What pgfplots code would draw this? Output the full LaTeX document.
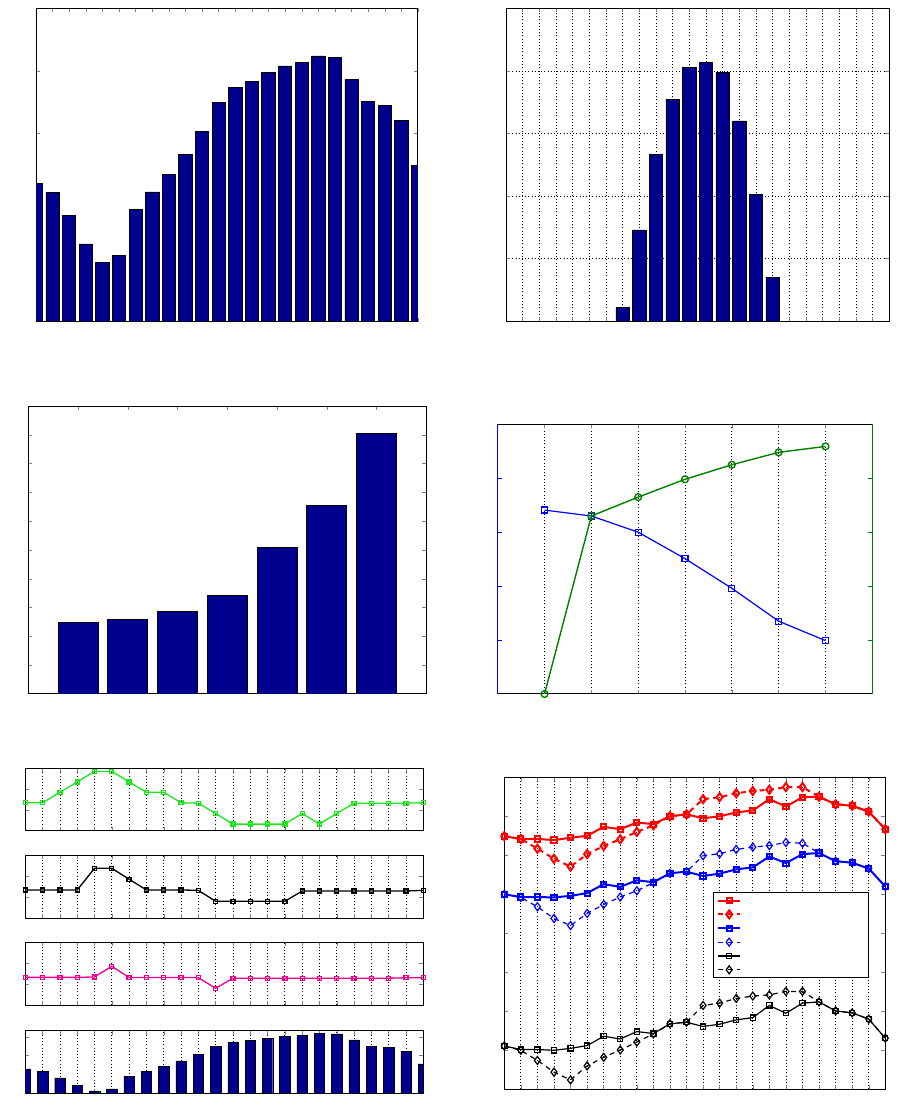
\documentclass[border=0pt]{standalone}
\usepackage{pgfplots}
\pgfplotsset{compat=1.18}
\usepackage{pgfplotstable}

\definecolor{matnavy}{RGB}{0,0,143}
\definecolor{matgreen}{RGB}{0,128,0}
\definecolor{brightgreen}{RGB}{30,230,30}

\pgfplotsset{
  panel/.style={scale only axis, anchor=south west, tick align=inside,
    major tick length=2pt, xticklabel={\mbox{}}, yticklabel={\mbox{}},
    axis line style={line width=0.5pt},
    grid style={black, line width=0.4pt, dash pattern=on 0.5pt off 1.1pt}},
  navybar/.style={ybar, fill=matnavy, draw=black, line width=0.4pt},
}

% hourly bars, top left (reused in the bottom strip)
\pgfplotstableread{
x y
0 2.20
1 2.06
2 1.69
3 1.24
4 0.94
5 1.05
6 1.79
7 2.07
8 2.35
9 2.67
10 3.04
11 3.50
12 3.74
13 3.84
14 3.98
15 4.08
16 4.13
17 4.24
18 4.22
19 3.87
20 3.52
21 3.45
22 3.21
23 2.49
}\hourly

% step profiles, bottom left strips
\pgfplotstableread{
x g k m
0 1.35 1.35 1.33
1 1.35 1.35 1.33
2 1.85 1.35 1.33
3 2.35 1.35 1.33
4 2.85 2.38 1.35
5 2.85 2.38 1.86
6 2.35 1.86 1.32
7 1.85 1.35 1.32
8 1.85 1.35 1.32
9 1.35 1.35 1.32
10 1.33 1.33 1.32
11 0.84 0.81 0.81
12 0.33 0.81 1.29
13 0.33 0.81 1.29
14 0.33 0.81 1.29
15 0.33 0.81 1.29
16 0.84 1.30 1.29
17 0.33 1.30 1.29
18 0.84 1.30 1.29
19 1.33 1.30 1.29
20 1.33 1.30 1.29
21 1.33 1.30 1.29
22 1.33 1.30 1.31
23 1.35 1.33 1.31
}\steps

% bottom right: three pairs of curves
\pgfplotstableread{
x rs rd bs bd ks kd
0 6.49 6.49 5.00 5.00 1.11 1.11
1 6.42 6.42 4.93 4.92 1.02 1.00
2 6.42 6.17 4.93 4.68 1.02 0.74
3 6.39 5.91 4.92 4.38 1.00 0.44
4 6.45 5.71 4.96 4.20 1.05 0.24
5 6.50 6.03 5.03 4.51 1.12 0.60
6 6.73 6.24 5.26 4.74 1.36 0.82
7 6.67 6.41 5.19 4.93 1.29 1.01
8 6.84 6.60 5.36 5.09 1.48 1.21
9 6.80 6.77 5.31 5.30 1.43 1.42
10 7.00 7.00 5.54 5.54 1.68 1.68
11 7.05 7.05 5.58 5.58 1.72 1.72
12 6.95 7.44 5.47 5.99 1.61 2.15
13 7.00 7.49 5.53 6.04 1.67 2.21
14 7.10 7.59 5.64 6.15 1.78 2.33
15 7.15 7.65 5.69 6.21 1.84 2.39
16 7.44 7.68 5.97 6.25 2.15 2.42
17 7.25 7.75 5.80 6.33 1.95 2.51
18 7.49 7.75 6.03 6.31 2.21 2.51
19 7.50 7.50 6.06 6.06 2.24 2.24
20 7.31 7.31 5.85 5.85 2.01 2.01
21 7.27 7.27 5.81 5.81 1.96 1.96
22 7.12 7.12 5.66 5.66 1.80 1.80
23 6.67 6.67 5.20 5.20 1.31 1.31
}\curves

\begin{document}
\begin{tikzpicture}
\path[use as bounding box] (0,0) rectangle (450.5pt,558pt);

% top left
\begin{axis}[panel, at={(18pt,397.15pt)}, width=191pt, height=156.7pt,
  xmin=0, xmax=23, ymin=0, ymax=5, xtick={0,...,23}, ytick={0,...,5}]
\addplot[navybar, bar width=0.8] table[x=x,y=y] {\hourly};
\end{axis}

% top right
\begin{axis}[panel, at={(253pt,397.35pt)}, width=191.65pt, height=156.5pt,
  xmin=0, xmax=23, ymin=0, ymax=5, xtick={0,...,23}, ytick={0,...,5},
  xmajorgrids, ymajorgrids]
\addplot[navybar, bar width=0.8] coordinates {
  (7,0.22)(8,1.46)(9,2.66)(10,3.55)(11,4.05)(12,4.14)(13,3.97)(14,3.20)(15,2.03)(16,0.70)};
\end{axis}

% middle left
\begin{axis}[panel, at={(14.15pt,211pt)}, width=199pt, height=144pt,
  xmin=0, xmax=8, ymin=0, ymax=10, xtick={1,...,7}, ytick={1,...,9}]
\addplot[navybar, bar width=0.8] coordinates {
  (1,2.49)(2,2.60)(3,2.87)(4,3.43)(5,5.10)(6,6.56)(7,9.06)};
\end{axis}

% middle right, two y axes
\begin{axis}[panel, at={(248.85pt,211pt)}, width=187.3pt, height=134.85pt,
  xmin=0, xmax=8, ymin=0, ymax=5, xtick={1,...,7}, ytick={1,...,4},
  xmajorgrids, axis y line*=left, tick align=inside,
  y axis line style={blue}, every y tick/.append style={blue},
  clip mode=individual]
\addplot[blue, line width=0.6pt, mark=square, mark size=1.5pt] coordinates {
  (1,3.41)(2,3.30)(3,3.00)(4,2.51)(5,1.96)(6,1.35)(7,0.99)};
\end{axis}
\begin{axis}[panel, at={(248.85pt,211pt)}, width=187.3pt, height=134.85pt,
  xmin=0, xmax=8, ymin=0, ymax=5, ytick={1,...,4},
  axis x line=none, axis y line*=right, tick align=inside,
  y axis line style={matgreen}, every y tick/.append style={matgreen},
  clip mode=individual]
\addplot[matgreen, line width=0.7pt, mark=o, mark size=1.7pt] coordinates {
  (1,0)(2,3.30)(3,3.65)(4,3.98)(5,4.25)(6,4.48)(7,4.59)};
\end{axis}

% bottom left strips
\begin{axis}[panel, at={(12.65pt,142.5pt)}, width=199pt, height=31.35pt,
  xmin=0, xmax=23, ymin=0, ymax=3, xtick={0,...,23}, ytick={1,2},
  xmajorgrids, clip mode=individual]
\addplot[brightgreen, line width=0.65pt, mark=square, mark size=1pt] table[x=x,y=g] {\steps};
\end{axis}
\begin{axis}[panel, at={(12.65pt,98.85pt)}, width=199pt, height=31.5pt,
  xmin=0, xmax=23, ymin=0, ymax=3, xtick={0,...,23}, ytick={1,2},
  xmajorgrids, clip mode=individual]
\addplot[black, line width=0.65pt, mark=square, mark size=1pt] table[x=x,y=k] {\steps};
\end{axis}
\begin{axis}[panel, at={(12.65pt,55.35pt)}, width=199pt, height=31.5pt,
  xmin=0, xmax=23, ymin=0, ymax=3, xtick={0,...,23}, ytick={1,2},
  xmajorgrids, clip mode=individual]
\addplot[magenta, line width=0.65pt, mark=square, mark size=1pt] table[x=x,y=m] {\steps};
\end{axis}
\begin{axis}[panel, at={(12.65pt,11.35pt)}, width=199pt, height=31.3pt,
  xmin=0, xmax=23, ymin=0.8, ymax=4.4, xtick={0,...,23}, ytick={1,...,4},
  xmajorgrids]
\addplot[navybar, bar width=0.6, line width=0.2pt] table[x=x,y=y] {\hourly};
\end{axis}

% bottom right
\begin{axis}[panel, at={(252.15pt,13.35pt)}, width=190.5pt, height=156pt,
  xmin=0, xmax=23, ymin=0, ymax=8, xtick={0,...,23}, ytick={1,...,7},
  xmajorgrids, clip mode=individual,
  legend cell align=left,
  legend image code/.code={
    \draw[mark repeat=2, mark phase=2, #1] plot coordinates {(0pt,0pt)(5.5pt,0pt)(11pt,0pt)};},
  legend style={at={(0.5486,0.6314)}, anchor=north west, draw=black, line width=0.5pt,
    inner xsep=1.7pt, inner ysep=0.4pt, row sep=0pt,
    nodes={inner sep=0pt, text depth=0pt, minimum height=6.93pt}},
  sq/.style={mark=square, mark size=1.3pt, mark options={solid}},
  dm/.style={dashed, dash pattern=on 2.5pt off 2.2pt, mark=diamond, mark size=2pt, mark options={solid}}]
\addplot[red, line width=1pt, sq] table[x=x,y=rs] {\curves};
\addlegendentry{\hspace*{62pt}}
\addplot[red, line width=1pt, dm] table[x=x,y=rd] {\curves};
\addlegendentry{\hspace*{62pt}}
\addplot[blue, line width=1pt, sq] table[x=x,y=bs] {\curves};
\addlegendentry{\hspace*{62pt}}
\addplot[blue, line width=0.6pt, dm] table[x=x,y=bd] {\curves};
\addlegendentry{\hspace*{62pt}}
\addplot[black, line width=0.6pt, sq] table[x=x,y=ks] {\curves};
\addlegendentry{\hspace*{62pt}}
\addplot[black, line width=0.6pt, dm] table[x=x,y=kd] {\curves};
\addlegendentry{\hspace*{62pt}}
\end{axis}
\end{tikzpicture}
\end{document}
